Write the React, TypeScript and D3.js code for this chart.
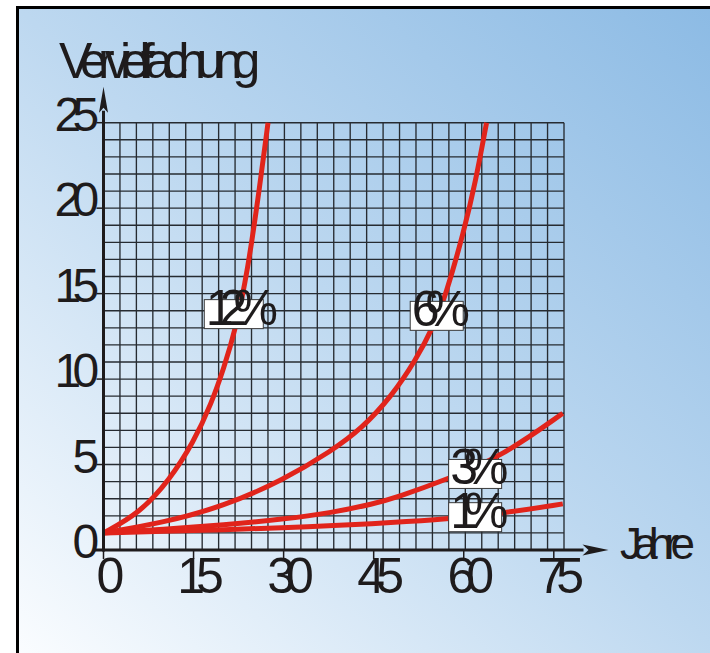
import { useEffect, useRef } from "react";
import * as d3 from "d3";

// values: year -> multiple of the starting amount
const years12 = [0, 6, 11, 15, 18, 20, 22, 24, 26, 27.4];
const growth12 = [1, 2.15, 4.1, 6.3, 8.6, 10.6, 12.9, 16.3, 21.2, 25];

const years6 = [0, 10, 20, 30, 38, 43, 48, 52, 55, 57, 60, 62, 63.8];
const growth6 = [1, 1.6, 2.55, 4.1, 5.8, 7.1, 9.0, 11.1, 13.1, 14.9, 18.6, 21.6, 25];

const years3 = [0, 10, 20, 30, 38, 45, 49, 57, 66.5, 76.5];
const growth3 = [1, 1.2, 1.47, 1.8, 2.18, 2.7, 3.1, 4.1, 5.5, 8.0];

const years1 = [0, 10, 20, 30, 38, 48, 57, 66.5, 76.5];
const growth1 = [1, 1.09, 1.19, 1.3, 1.42, 1.6, 1.8, 2.15, 2.7];

const labels = ["12%", "6%", "3%", "1%"];
const labelYears = [21.7, 55.5, 61.9, 61.9];
const labelValues = [13.8, 13.7, 4.45, 1.92];

const xTicks = [0, 15, 30, 45, 60, 75];
const yTicks = [0, 5, 10, 15, 20, 25];
const xMax = 76.7;
const yMax = 25;
const gridColumns = 28;

const W = 710;
const H = 653;
const FONT = "'Liberation Sans', Arial, sans-serif";
const INK = "#1e1b1c";
const RED = "#e1241b";

export default function App() {
  const svgRef = useRef<SVGSVGElement>(null);

  useEffect(() => {
    if (!svgRef.current) return;
    const svg = d3.select(svgRef.current);
    svg.selectAll("*").remove();

    const margin = { top: 122.7, right: 146, bottom: 103, left: 103.5 };

    const x = d3
      .scaleLinear()
      .domain([0, xMax])
      .range([margin.left, W - margin.right]);
    const y = d3
      .scaleLinear()
      .domain([0, yMax])
      .range([H - margin.bottom, margin.top]);

    // background panel
    const defs = svg.append("defs");
    const grad = defs
      .append("linearGradient")
      .attr("id", "bg")
      .attr("x1", 0)
      .attr("y1", 1)
      .attr("x2", 1)
      .attr("y2", 0);
    grad.append("stop").attr("offset", 0).attr("stop-color", "#fbfdff");
    grad.append("stop").attr("offset", 0.5).attr("stop-color", "#bdd8f0");
    grad.append("stop").attr("offset", 1).attr("stop-color", "#8bbae4");

    svg.append("rect").attr("width", W).attr("height", H).attr("fill", "#fff");
    svg
      .append("rect")
      .attr("x", 17.5)
      .attr("y", 7.5)
      .attr("width", W)
      .attr("height", H)
      .attr("fill", "url(#bg)")
      .attr("stroke", "#000")
      .attr("stroke-width", 3);

    // grid
    const grid = svg.append("g").attr("stroke", "#262b31").attr("stroke-width", 1.35);
    d3.range(gridColumns + 1).forEach((i) => {
      const gx = x((i * xMax) / gridColumns);
      grid
        .append("line")
        .attr("x1", gx)
        .attr("x2", gx)
        .attr("y1", y(0))
        .attr("y2", y(yMax));
    });
    d3.range(yMax + 1).forEach((v) => {
      grid
        .append("line")
        .attr("x1", x(0))
        .attr("x2", x(xMax))
        .attr("y1", y(v))
        .attr("y2", y(v));
    });

    // curves
    const line = d3
      .line<[number, number]>()
      .x((d) => x(d[0]))
      .y((d) => y(d[1]))
      .curve(d3.curveBasis);

    const series: [number[], number[]][] = [
      [years12, growth12],
      [years6, growth6],
      [years3, growth3],
      [years1, growth1],
    ];
    series.forEach(([yrs, vals]) => {
      svg
        .append("path")
        .datum(yrs.map((t, i) => [t, vals[i]] as [number, number]))
        .attr("fill", "none")
        .attr("stroke", RED)
        .attr("stroke-width", 5)
        .attr("stroke-linecap", "butt")
        .attr("d", line);
    });

    // axes
    const axis = svg.append("g").attr("stroke", INK);
    axis
      .append("line")
      .attr("x1", x(0) - 10)
      .attr("x2", x(0) + 480)
      .attr("y1", y(0))
      .attr("y2", y(0))
      .attr("stroke-width", 3);
    axis
      .append("line")
      .attr("x1", x(0))
      .attr("x2", x(0))
      .attr("y1", y(0) + 1.5)
      .attr("y2", y(yMax) - 12)
      .attr("stroke-width", 3);

    // arrow heads
    const ax = x(0) + 505;
    const ay = y(0);
    svg
      .append("path")
      .attr("d", `M${ax},${ay} L${ax - 26},${ay - 5.5} L${ax - 20},${ay} L${ax - 26},${ay + 5.5} Z`)
      .attr("fill", INK);
    const tx = x(0);
    const ty = y(yMax) - 36;
    svg
      .append("path")
      .attr("d", `M${tx},${ty} L${tx - 4.5},${ty + 26} L${tx},${ty + 21} L${tx + 4.5},${ty + 26} Z`)
      .attr("fill", INK);

    xTicks.forEach((t) => {
      axis
        .append("line")
        .attr("x1", x(t))
        .attr("x2", x(t))
        .attr("y1", y(0))
        .attr("y2", y(0) + 9)
        .attr("stroke-width", 1.5);
      svg
        .append("text")
        .attr("x", x(t) + 2.5)
        .attr("y", y(0) + 43)
        .attr("text-anchor", "middle")
        .attr("font-family", FONT)
        .attr("font-size", 50)
        .attr("letter-spacing", "-0.18em")
        .attr("fill", INK)
        .text(t);
    });

    yTicks.forEach((v) => {
      axis
        .append("line")
        .attr("x1", x(0) - 7)
        .attr("x2", x(0))
        .attr("y1", y(v))
        .attr("y2", y(v))
        .attr("stroke-width", 1.5);
      svg
        .append("text")
        .attr("x", x(0) - 13)
        .attr("y", y(v) + 8)
        .attr("text-anchor", "end")
        .attr("font-family", FONT)
        .attr("font-size", 48)
        .attr("letter-spacing", "-0.18em")
        .attr("fill", INK)
        .text(v);
    });

    // axis titles
    svg
      .append("text")
      .attr("x", 59)
      .attr("y", 78)
      .attr("font-family", FONT)
      .attr("font-size", 50)
      .attr("letter-spacing", "-0.195em")
      .attr("fill", INK)
      .text("Vervielfachung");
    svg
      .append("text")
      .attr("x", 620)
      .attr("y", 559)
      .attr("font-family", FONT)
      .attr("font-size", 44)
      .attr("letter-spacing", "-0.2em")
      .attr("fill", INK)
      .text("Jahre");

    // percentage labels in white boxes
    labels.forEach((lab, i) => {
      const cx = x(labelYears[i]);
      const cy = y(labelValues[i]);
      const bw = lab.length === 3 ? 59 : 53;
      const bh = 29;
      const left = cx - bw / 2;
      svg
        .append("rect")
        .attr("x", left)
        .attr("y", cy - bh / 2)
        .attr("width", bw)
        .attr("height", bh)
        .attr("fill", "#fff")
        .attr("stroke", "#3a3a3a")
        .attr("stroke-width", 1);
      svg
        .append("text")
        .attr("x", left + 1.5)
        .attr("y", cy + bh / 2 - 4)
        .attr("font-family", FONT)
        .attr("font-size", 50)
        .attr("letter-spacing", "-0.28em")
        .attr("fill", INK)
        .text(lab);
    });
  }, []);

  return (
    <svg
      ref={svgRef}
      width={W}
      height={H}
      style={{ position: "absolute", left: 0, top: 0, display: "block" }}
    />
  );
}
